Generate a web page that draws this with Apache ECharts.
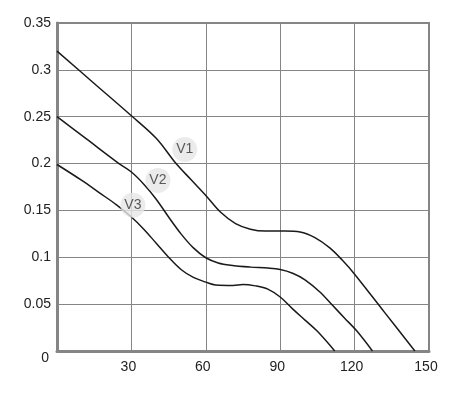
<!DOCTYPE html>
<html>
<head>
<meta charset="utf-8">
<script src="https://cdn.jsdelivr.net/npm/echarts@6/dist/echarts.min.js"></script>
<style>
  html, body { margin: 0; padding: 0; background: #fff; }
  #main { width: 452px; height: 397px; }
</style>
</head>
<body>
<div id="main"></div>
<script>
// curve values
const v1X = [0, 15, 30, 40, 48, 54, 60, 66, 72, 78, 84, 92, 98, 104, 110, 115, 120, 132, 144.3]
const v1Y = [0.32, 0.2855, 0.251, 0.227, 0.2, 0.183, 0.166, 0.148, 0.136, 0.130, 0.128, 0.128, 0.127, 0.121, 0.110, 0.097, 0.082, 0.0415, 0]

const v2X = [0, 12, 25, 30, 35, 40, 45, 50, 55, 60, 65, 70, 78, 85, 90, 95, 100, 106, 111, 116, 121, 127.2]
const v2Y = [0.25, 0.226, 0.2, 0.191, 0.178, 0.162, 0.143, 0.125, 0.11, 0.0995, 0.094, 0.0915, 0.0895, 0.0885, 0.087, 0.083, 0.076, 0.063, 0.049, 0.035, 0.021, 0]

const v3X = [0, 10, 17, 24, 30, 35, 40, 45, 50, 55, 60, 64, 71, 75, 80, 85, 90, 95, 100, 105, 112]
const v3Y = [0.199, 0.182, 0.169, 0.156, 0.143, 0.13, 0.115, 0.1, 0.087, 0.0785, 0.0735, 0.0705, 0.070, 0.071, 0.0695, 0.066, 0.0576, 0.045, 0.033, 0.021, 0]

// curve name tags
const tagNames = ['V1', 'V2', 'V3']
const tagX = [51.5, 40.7, 30.6]
const tagY = [0.215, 0.182, 0.1555]

const zip = (xs, ys) => xs.map((x, i) => [x, ys[i]])

const lineStyle = { color: '#1a1a1a', width: 1.5 }
const gridLine = { show: true, lineStyle: { color: '#858585', width: 1 } }
const axisLine = { show: true, lineStyle: { color: '#858585', width: 3 } }
const labelFont = { color: '#222', fontSize: 14, fontFamily: 'Liberation Sans, Arial, sans-serif' }

const chart = echarts.init(document.getElementById('main'))
chart.setOption({
  animation: false,
  backgroundColor: '#fff',
  grid: {
    left: 57, right: 23, top: 23, bottom: 46,
    show: true, borderColor: '#858585', borderWidth: 2
  },
  xAxis: {
    type: 'value',
    min: 0, max: 150, interval: 30,
    axisLine: axisLine,
    axisTick: { show: false },
    splitLine: gridLine,
    axisLabel: Object.assign({ showMinLabel: false, margin: 9, padding: [0, 6, 0, 0] }, labelFont)
  },
  yAxis: {
    type: 'value',
    min: 0, max: 0.35, interval: 0.05,
    axisLine: axisLine,
    axisTick: { show: false },
    splitLine: gridLine,
    axisLabel: Object.assign({
      margin: 6,
      formatter: v => v === 0 ? '{z|0}' : String(+v.toFixed(2)),
      rich: { z: Object.assign({ padding: [14, 2, 0, 0] }, labelFont) }
    }, labelFont)
  },
  series: [
    { name: 'V1', type: 'line', data: zip(v1X, v1Y), smooth: 0.35, showSymbol: false, lineStyle: lineStyle },
    { name: 'V2', type: 'line', data: zip(v2X, v2Y), smooth: 0.35, showSymbol: false, lineStyle: lineStyle },
    { name: 'V3', type: 'line', data: zip(v3X, v3Y), smooth: 0.35, showSymbol: false, lineStyle: lineStyle },
    {
      type: 'scatter',
      z: 5,
      symbolSize: 25,
      itemStyle: { color: '#e6e6e6' },
      label: {
        show: true, position: 'inside',
        color: '#333', fontSize: 14, fontFamily: 'Liberation Sans, Arial, sans-serif',
        formatter: p => tagNames[p.dataIndex]
      },
      data: zip(tagX, tagY)
    }
  ]
})
</script>
</body>
</html>
